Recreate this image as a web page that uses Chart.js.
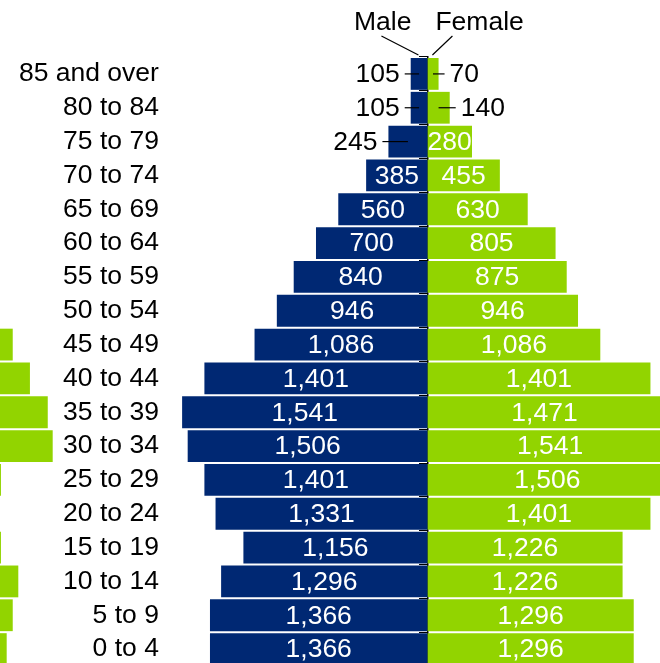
<!DOCTYPE html>
<html>
<head>
<meta charset="utf-8">
<title>Population by age and sex</title>
<script src="https://cdn.jsdelivr.net/npm/chart.js@4/dist/chart.umd.min.js"></script>
<style>
  html, body { margin: 0; padding: 0; background: #ffffff; overflow: hidden; }
  #wrap { position: absolute; left: 0; top: 0; width: 660px; height: 686px; }
</style>
</head>
<body>
<div id="wrap"><canvas id="pyramid" width="660" height="686"></canvas></div>
<script>
// Age groups, oldest at the top
const ageGroups = [
  "85 and over", "80 to 84", "75 to 79", "70 to 74", "65 to 69", "60 to 64",
  "55 to 59", "50 to 54", "45 to 49", "40 to 44", "35 to 39", "30 to 34",
  "25 to 29", "20 to 24", "15 to 19", "10 to 14", "5 to 9", "0 to 4"
];

// Persons per age group
const maleCounts = [105, 105, 245, 385, 560, 700, 840, 946, 1086, 1401, 1541, 1506, 1401, 1331, 1156, 1296, 1366, 1366];
const femaleCounts = [70, 140, 280, 455, 630, 805, 875, 946, 1086, 1401, 1471, 1541, 1506, 1401, 1226, 1226, 1296, 1296];

// Ends of the female bars of the neighbouring panel that reach into this one
const adjacentTail = [0, 0, 0, 0, 0, 0, 0, 0, 80, 188, 300, 331, 6, 0, 6, 115, 80, 42];

const sexHeadings = ["Male", "Female"];

const X_MIN = -2685;
const X_MAX = 1461;
const LABEL_AXIS_AT = -1687;

const MALE_COLOR = "#002873";
const FEMALE_COLOR = "#92D400";
const FONT = '"Liberation Sans", Arial, Helvetica, sans-serif';
const FONT_SIZE = 26.5;

Chart.defaults.font.family = FONT;

const fmt = v => v.toLocaleString("en-US");

// Value labels: white inside wide bars, black with a leader line beside narrow bars
const valueLabels = {
  id: "valueLabels",
  afterDatasetsDraw(chart) {
    const ctx = chart.ctx;
    ctx.save();
    ctx.font = FONT_SIZE + "px " + FONT;
    ctx.textBaseline = "middle";
    [0, 1].forEach(di => {
      const meta = chart.getDatasetMeta(di);
      const values = di === 0 ? maleCounts : femaleCounts;
      meta.data.forEach((bar, i) => {
        const p = bar.getProps(["x", "y", "base"], true);
        const text = fmt(values[i]);
        const w = Math.abs(p.x - p.base);
        const tw = ctx.measureText(text).width;
        if (tw <= w + 2) {
          ctx.fillStyle = "#ffffff";
          ctx.textAlign = "center";
          ctx.fillText(text, (p.x + p.base) / 2, p.y + 1);
        } else {
          const dir = di === 0 ? -1 : 1;
          const mid = (p.x + p.base) / 2;
          const lineEnd = p.x + dir * 6;
          ctx.strokeStyle = "#000000";
          ctx.lineWidth = 1.2;
          ctx.beginPath();
          ctx.moveTo(mid, p.y);
          ctx.lineTo(lineEnd, p.y);
          ctx.stroke();
          ctx.fillStyle = "#000000";
          ctx.textAlign = di === 0 ? "right" : "left";
          ctx.fillText(text, lineEnd + dir * 5, p.y + 1);
        }
      });
    });
    ctx.restore();
  }
};

// "Male" / "Female" headings with pointers to the centre axis
const sexHeadingsPlugin = {
  id: "sexHeadings",
  afterDraw(chart) {
    const ctx = chart.ctx;
    const cx = chart.scales.x.getPixelForValue(0);
    const top = chart.chartArea.top;
    ctx.save();
    ctx.font = FONT_SIZE + "px " + FONT;
    ctx.fillStyle = "#000000";
    ctx.textBaseline = "alphabetic";
    ctx.textAlign = "right";
    ctx.fillText(sexHeadings[0], cx - 16, top - 27);
    ctx.textAlign = "left";
    ctx.fillText(sexHeadings[1], cx + 8, top - 27);
    ctx.strokeStyle = "#000000";
    ctx.lineWidth = 1.2;
    ctx.beginPath();
    ctx.moveTo(cx - 46, top - 21);
    ctx.lineTo(cx - 9, top - 2);
    ctx.moveTo(cx + 25, top - 21);
    ctx.lineTo(cx + 5, top - 2);
    ctx.stroke();
    ctx.restore();
  }
};

new Chart(document.getElementById("pyramid"), {
  type: "bar",
  data: {
    labels: ageGroups,
    datasets: [
      {
        label: sexHeadings[0],
        data: maleCounts.map(v => -v),
        backgroundColor: MALE_COLOR,
        grouped: false,
        barPercentage: 0.94,
        categoryPercentage: 1
      },
      {
        label: sexHeadings[1],
        data: femaleCounts,
        backgroundColor: FEMALE_COLOR,
        grouped: false,
        barPercentage: 0.94,
        categoryPercentage: 1
      },
      {
        label: "adjacent",
        data: adjacentTail.map(t => [X_MIN, X_MIN + t]),
        backgroundColor: FEMALE_COLOR,
        grouped: false,
        barPercentage: 0.94,
        categoryPercentage: 1
      }
    ]
  },
  options: {
    indexAxis: "y",
    responsive: false,
    animation: false,
    devicePixelRatio: 1,
    layout: { padding: { top: 57, bottom: 20, left: 0, right: 0 } },
    plugins: {
      legend: { display: false },
      tooltip: { enabled: false }
    },
    scales: {
      x: {
        type: "linear",
        min: X_MIN,
        max: X_MAX,
        display: false
      },
      y: {
        type: "category",
        axis: "y",
        position: { x: LABEL_AXIS_AT },
        offset: true,
        grid: { display: false, offset: true },
        border: { display: false },
        ticks: {
          color: "#000000",
          padding: 0,
          autoSkip: false,
          font: { size: FONT_SIZE, family: FONT }
        }
      },
      yc: {
        type: "category",
        axis: "y",
        position: { x: 0 },
        offset: true,
        z: 1,
        grid: {
          offset: true,
          drawOnChartArea: false,
          drawTicks: true,
          tickLength: 8,
          color: "#000000",
          lineWidth: 1
        },
        border: { display: true, color: "#000000", width: 1.5 },
        ticks: { display: false, autoSkip: false }
      }
    }
  },
  plugins: [valueLabels, sexHeadingsPlugin]
});
</script>
</body>
</html>
